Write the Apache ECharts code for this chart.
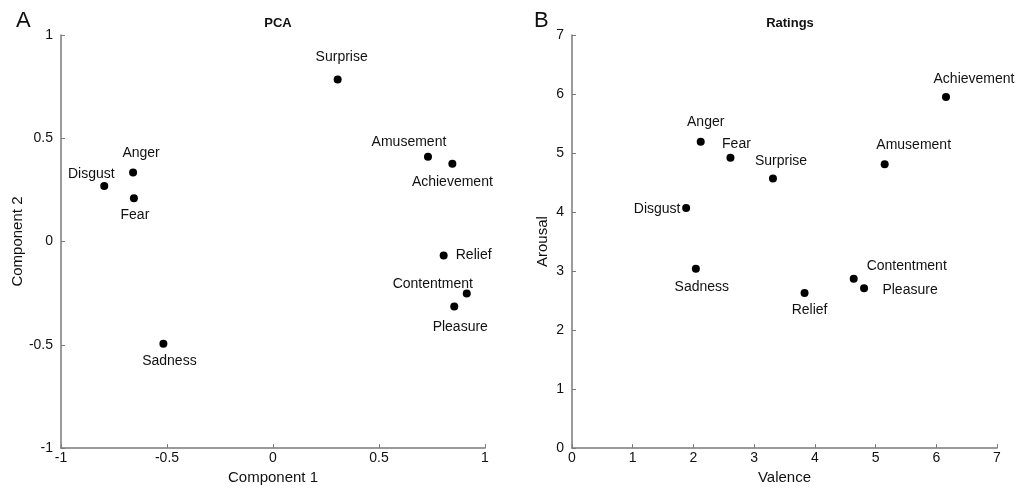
<!DOCTYPE html>
<html><head><meta charset="utf-8">
<script src="https://cdn.jsdelivr.net/npm/echarts@6/dist/echarts.min.js"></script>
<style>html,body{margin:0;padding:0;background:#fff}#c{width:1020px;height:490px}</style>
</head><body><div id="c"></div>
<script>
const emotions = ['Surprise','Amusement','Achievement','Anger','Disgust','Fear','Relief','Contentment','Pleasure','Sadness'];
const pcaC1 = [0.305, 0.731, 0.846, -0.660, -0.796, -0.656, 0.805, 0.914, 0.855, -0.517];
const pcaC2 = [0.784, 0.410, 0.377, 0.334, 0.269, 0.210, -0.068, -0.251, -0.315, -0.495];
const valence = [3.31, 5.15, 6.16, 2.12, 1.88, 2.61, 3.83, 4.64, 4.81, 2.04];
const arousal = [4.57, 4.81, 5.95, 5.19, 4.07, 4.92, 2.63, 2.87, 2.71, 3.04];

// label offsets (layout only)
const offA = {Surprise:[4,-22],Amusement:[-19,-15],Achievement:[0,18],Anger:[8,-19],Disgust:[-13,-12],Fear:[1,17],Relief:[30,0],Contentment:[-34,-9],Pleasure:[6,21],Sadness:[6,17]};
const offB = {Surprise:[8,-17],Amusement:[29,-19],Achievement:[28,-18],Anger:[5,-20],Disgust:[-29,1],Fear:[6,-14],Relief:[5,17],Contentment:[53,-13],Pleasure:[46,2],Sadness:[6,18]};

const FONT = '"Liberation Sans", Arial, sans-serif';
const axisCol = '#7a7a7a';
function mkData(xs, ys, off){
  return emotions.map((n,i)=>({name:n, value:[xs[i], ys[i]], label:{offset:off[n]}}));
}
function axis(min,max,interval,name,isY){
  return {type:'value',min,max,interval,name,nameLocation:'middle',
    nameTextStyle:{fontFamily:FONT,fontSize:15,color:'#111'},
    nameGap: isY?36:16,
    axisLine:{show:true,onZero:false,lineStyle:{color:axisCol,width:1.5}},
    axisTick:{show:true,inside:true,length:4,lineStyle:{color:axisCol,width:1}},
    axisLabel:{fontFamily:FONT,fontSize:14,color:'#111',margin:isY?8:3,
      formatter:v=>String(Math.round(v*10)/10)},
    splitLine:{show:false}};
}
const labelStyle = {show:true,position:'inside',formatter:'{b}',fontFamily:FONT,fontSize:14,color:'#111',opacity:1};
const chart = echarts.init(document.getElementById('c'));
chart.setOption({
  animation:false,
  backgroundColor:'#fff',
  title:[
    {text:'PCA',left:273,top:12,textAlign:'center',textStyle:{fontFamily:FONT,fontSize:13,fontWeight:'bold',color:'#111'}},
    {text:'Ratings',left:785,top:12,textAlign:'center',textStyle:{fontFamily:FONT,fontSize:13,fontWeight:'bold',color:'#111'}},
    {text:'A',left:11,top:5,textStyle:{fontFamily:FONT,fontSize:22,fontWeight:'normal',color:'#111'}},
    {text:'B',left:529,top:5,textStyle:{fontFamily:FONT,fontSize:22,fontWeight:'normal',color:'#111'}}
  ],
  grid:[
    {left:61,right:535,top:35,bottom:36},
    {left:572,right:23,top:35,bottom:36}
  ],
  xAxis:[
    Object.assign(axis(-1,1,0.5,'Component 1',false),{gridIndex:0}),
    Object.assign(axis(0,7,1,'Valence',false),{gridIndex:1})
  ],
  yAxis:[
    Object.assign(axis(-1,1,0.5,'Component 2',true),{gridIndex:0,nameGap:34}),
    Object.assign(axis(0,7,1,'Arousal',true),{gridIndex:1,nameGap:22})
  ],
  series:[
    {type:'scatter',xAxisIndex:0,yAxisIndex:0,symbolSize:8,itemStyle:{color:'#000',opacity:1},
     label:labelStyle, data:mkData(pcaC1,pcaC2,offA)},
    {type:'scatter',xAxisIndex:1,yAxisIndex:1,symbolSize:8,itemStyle:{color:'#000',opacity:1},
     label:labelStyle, data:mkData(valence,arousal,offB)}
  ]
});
</script></body></html>
